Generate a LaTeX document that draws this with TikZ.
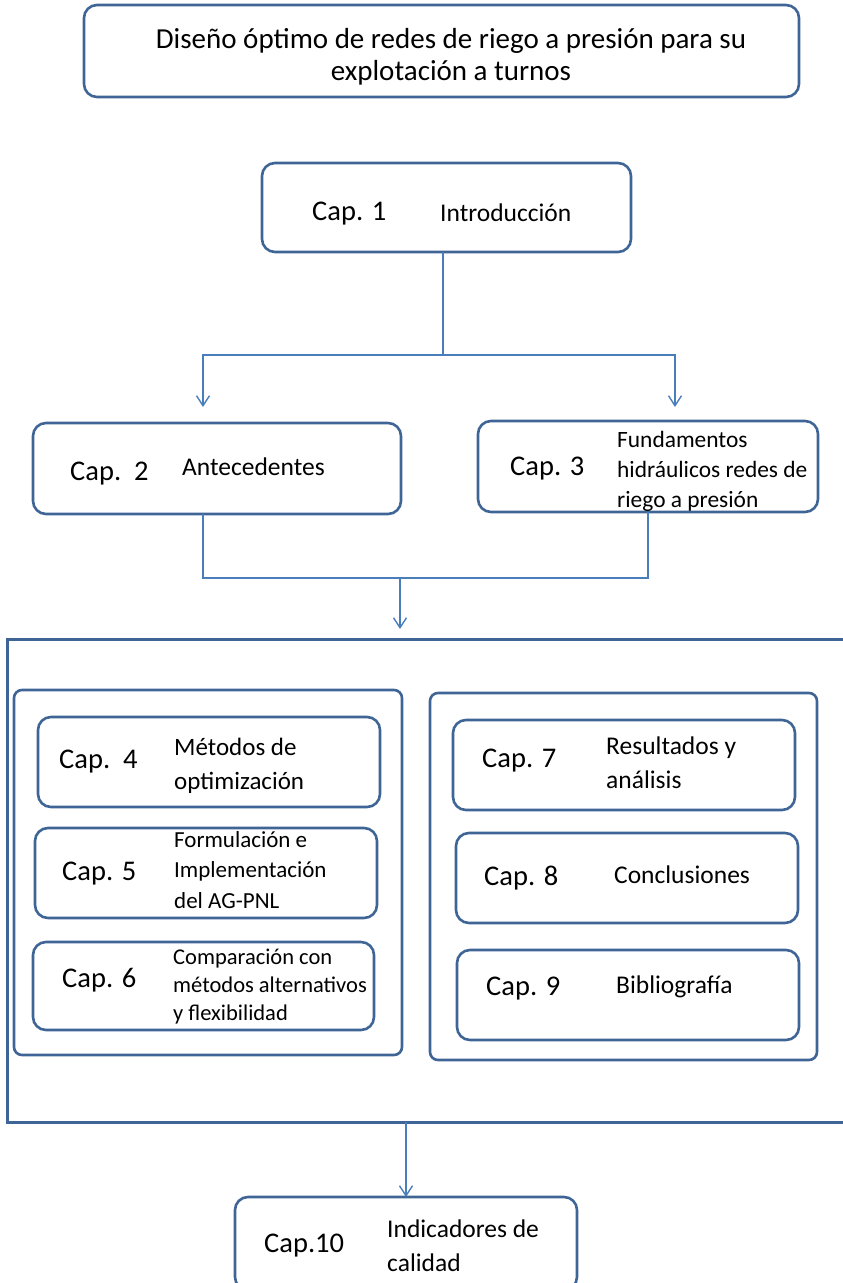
\documentclass[tikz,border=0pt]{standalone}
\usepackage{fontspec}
\setmainfont{Carlito}
\usetikzlibrary{arrows.meta,calc}
\definecolor{boxblue}{HTML}{3E6596}
\definecolor{linkblue}{HTML}{4A7EBB}

\begin{document}
\begin{tikzpicture}[x=1pt,y=-1pt,
  frame/.style={draw=boxblue, fill=white, line width=2.6pt, rounded corners=13pt, inner sep=0pt, outer sep=0pt},
  group/.style={frame, rounded corners=8pt},
  outer/.style={draw=boxblue, line width=3pt, inner sep=0pt, outer sep=0pt},
  chaplabel/.style={anchor=base west, inner sep=0pt, font=\fontsize{28.5pt}{34pt}\selectfont},
  desc/.style={anchor=base west, inner sep=0pt, align=left, font=\fontsize{25.5pt}{34pt}\selectfont},
  link/.style={draw=linkblue, line width=1.4pt},
  arr/.style={link, -{Straight Barb[length=10pt,width=13pt]}}
]
\useasboundingbox (0,0) rectangle (843,1283);
\clip (0,0) rectangle (843,1283);

% ---- frames ----
\node[frame, minimum width=715, minimum height=92] (title) at (441.5,51) {};
\node[frame, minimum width=369, minimum height=89] (c1) at (446.5,207.5) {};
\node[frame, minimum width=368, minimum height=91] (c2) at (217,468.5) {};
\node[frame, minimum width=340, minimum height=91] (c3) at (648,466.5) {};
\node[outer, minimum width=863, minimum height=483] (big) at (438.5,880.5) {};
\node[group, minimum width=388, minimum height=365] (gl) at (208,872.5) {};
\node[group, minimum width=387, minimum height=367] (gr) at (623.5,876.5) {};
\node[frame, minimum width=342, minimum height=90] (c4) at (209,762) {};
\node[frame, minimum width=342, minimum height=90] (c5) at (206,873) {};
\node[frame, minimum width=341, minimum height=88] (c6) at (203.5,986) {};
\node[frame, minimum width=342, minimum height=90] (c7) at (624,765) {};
\node[frame, minimum width=342, minimum height=90] (c8) at (627,878) {};
\node[frame, minimum width=342, minimum height=90] (c9) at (628,995) {};
\node[frame, minimum width=342, minimum height=93] (c10) at (406,1243.5) {};

% ---- texts (multi-line nodes sit on the baseline of their last line) ----
\node[anchor=base, inner sep=0pt, align=center, font=\fontsize{29pt}{32pt}\selectfont] (ttl) at (451,80)
  {Diseño óptimo de redes de riego a presión para su\\explotación a turnos};

\node[chaplabel] (k1) at (312,220) {Cap. 1};
\node[desc] (d1) at (440,221) {Introducción};

\node[chaplabel] (k2) at (70,480) {Cap.\ \ 2};
\node[desc] (d2) at (182,475) {Antecedentes};

\node[chaplabel] (k3) at (510,475) {Cap. 3};
\node[desc, font=\fontsize{23.4pt}{30pt}\selectfont] (d3) at (617,507)
  {Fundamentos\\hidráulicos redes de\\riego a presión};

\node[chaplabel] (k4) at (59,768) {Cap.\ \ 4};
\node[desc, font=\fontsize{25pt}{34pt}\selectfont] (d4) at (174,789) {Métodos de\\optimización};

\node[chaplabel] (k5) at (62,880) {Cap. 5};
\node[desc, font=\fontsize{23pt}{30.5pt}\selectfont] (d5) at (174,908)
  {Formulación e\\Implementación\\del AG-PNL};

\node[chaplabel] (k6) at (62,987) {Cap. 6};
\node[desc, font=\fontsize{22.5pt}{28pt}\selectfont] (d6) at (173,1020)
  {Comparación con\\métodos alternativos\\y flexibilidad};

\node[chaplabel] (k7) at (482,767) {Cap. 7};
\node[desc] (d7) at (606,788) {Resultados y\\análisis};

\node[chaplabel] (k8) at (484,885) {Cap. 8};
\node[desc] (d8) at (614,883) {Conclusiones};

\node[chaplabel] (k9) at (486,995) {Cap. 9};
\node[desc] (d9) at (616,993) {Bibliografía};

\node[chaplabel] (k10) at (264,1252) {Cap.10};
\node[desc] (d10) at (387,1271) {Indicadores de\\calidad};

% ---- connectors ----
\coordinate (j1) at (443,355);
\coordinate (a2) at (203,407);
\coordinate (a3) at (675,407);
\coordinate (j2) at (400,578);
\coordinate (a4) at (400,629);

\draw[link] (c1.south -| j1) -- (j1);
\draw[arr] (j1) -| (a2);
\draw[arr] (j1) -| (a3);
\draw[link] (c2.south -| a2) |- (j2);
\draw[link] (c3.south) |- (j2);
\draw[arr] (j2) -- (a4);
\draw[arr] (big.south -| c10.north) -- (c10.north);
\end{tikzpicture}
\end{document}
